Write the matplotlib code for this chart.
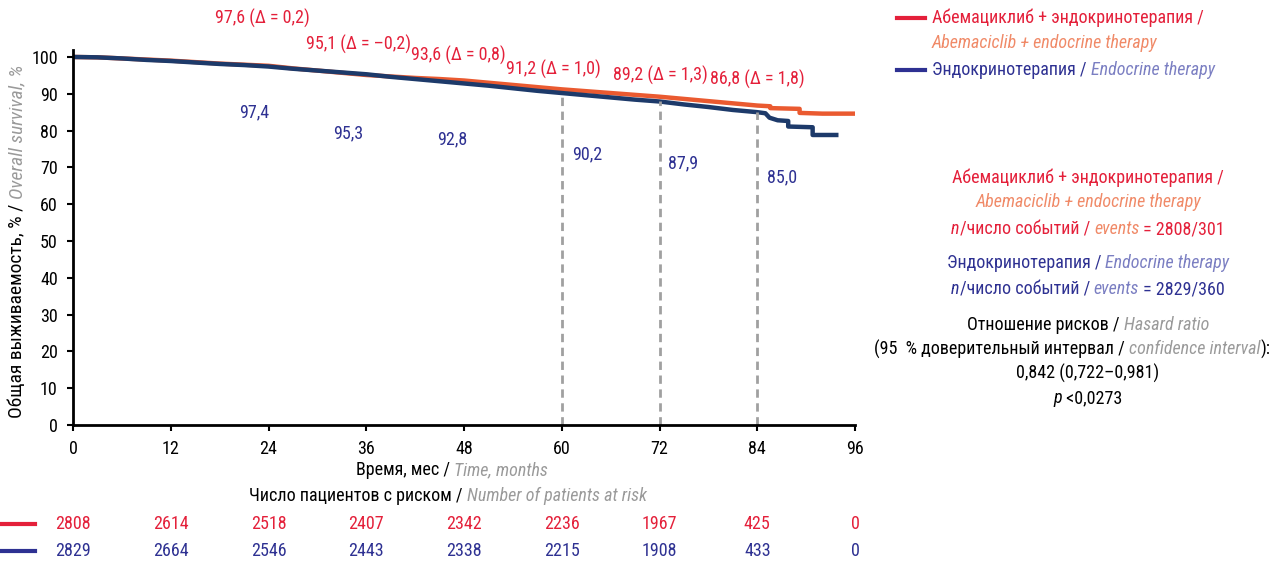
import matplotlib
matplotlib.use("Agg")
import matplotlib.pyplot as plt
from matplotlib.offsetbox import TextArea, HPacker, AnnotationBbox

FAM = ["Roboto Condensed", "Liberation Sans Narrow", "Liberation Sans", "DejaVu Sans"]
plt.rcParams["font.family"] = FAM

# Kaplan-Meier curves (months, OS %)
abe_t = [0, 3, 6, 9, 12, 15, 18, 21, 24, 27, 30, 33, 36, 39, 42, 45, 48, 51, 54, 57, 60,
         63, 66, 69, 72, 75, 78, 81, 84, 85.6, 85.6, 89.2, 89.2, 92, 95.8]
abe_s = [100, 99.9, 99.6, 99.3, 99.0, 98.6, 98.2, 97.9, 97.6, 96.9, 96.3, 95.7, 95.1, 94.7, 94.3,
         94.0, 93.6, 93.0, 92.4, 91.8, 91.2, 90.7, 90.2, 89.7, 89.2, 88.6, 88.0, 87.4, 86.8,
         86.6, 86.1, 85.9, 84.8, 84.6, 84.6]
end_t = [0, 3, 6, 9, 12, 15, 18, 21, 24, 27, 30, 33, 36, 39, 42, 45, 48, 51, 54, 57, 60,
         63, 66, 69, 72, 75, 78, 81, 84, 85, 85.5, 86.5, 87.8, 87.8, 90.8, 90.8, 93.7]
end_s = [100, 99.9, 99.6, 99.2, 98.9, 98.5, 98.1, 97.8, 97.4, 96.8, 96.3, 95.8, 95.3, 94.6, 94.0,
         93.4, 92.8, 92.2, 91.5, 90.8, 90.2, 89.6, 89.0, 88.4, 87.9, 87.1, 86.4, 85.6, 85.0,
         84.7, 83.5, 82.8, 82.6, 81.1, 80.9, 78.8, 78.8]

# landmark labels
mark_t = [24, 36, 48, 60, 72, 84]
abe_lab = ["97,6 (Δ = 0,2)", "95,1 (Δ = –0,2)", "93,6 (Δ = 0,8)", "91,2 (Δ = 1,0)",
           "89,2 (Δ = 1,3)", "86,8 (Δ = 1,8)"]
end_lab = ["97,4", "95,3", "92,8", "90,2", "87,9", "85,0"]
end_at_mark = [97.4, 95.3, 92.8, 90.2, 87.9, 85.0]
abe_lab_xy = [(23.2, 110.6), (35.0, 103.3), (47.3, 100.3), (59.0, 96.7), (72.1, 95.1), (84.0, 94.0)]
end_lab_xy = [(22.3, 85.0), (33.8, 79.3), (46.6, 77.7), (63.1, 73.4), (74.9, 71.2), (87.0, 67.4)]

# number at risk
risk_t = [0, 12, 24, 36, 48, 60, 72, 84, 96]
risk_abe = [2808, 2614, 2518, 2407, 2342, 2236, 1967, 425, 0]
risk_end = [2829, 2664, 2546, 2443, 2338, 2215, 1908, 433, 0]

RED = "#e4203a"
RED_CURVE = "#ea5a30"
LRED = "#f08a68"
BLUE = "#2e3192"
BLUE_CURVE = "#1d3a6a"
LBLUE = "#7b7fc2"
GRAY = "#9a9a9a"
FS = 13

W, H = 1277, 564
fig = plt.figure(figsize=(W / 100, H / 100), dpi=100)
ax = fig.add_axes([73 / W, 1 - 425 / H, (855 - 73) / W, (425 - 49.6) / H])

ax.plot(abe_t, abe_s, color=RED_CURVE, lw=3.2)
ax.plot(end_t, end_s, color=BLUE_CURVE, lw=3.2)

for t, v in zip(mark_t[3:], end_at_mark[3:]):
    ax.plot([t, t], [0, v], color="#a0a0a0", lw=2, ls=(0, (3, 2)))

for (x, y), s in zip(abe_lab_xy, abe_lab):
    ax.text(x, y, s, color=RED, fontsize=FS, ha="center", va="center", clip_on=False)
for (x, y), s in zip(end_lab_xy, end_lab):
    ax.text(x, y, s, color=BLUE, fontsize=FS, ha="center", va="center")

ax.set_xlim(0, 96)
ax.set_ylim(0, 102)
ax.set_xticks(range(0, 97, 12))
ax.set_yticks(range(0, 101, 10))
ax.tick_params(labelsize=FS, length=4, width=1.5, pad=7)
for sp in ["top", "right"]:
    ax.spines[sp].set_visible(False)
for sp in ["left", "bottom"]:
    ax.spines[sp].set_linewidth(2)


def rich(x, y, parts, ha=0.5):
    boxes = []
    for p in parts:
        txt, col = p[0], p[1]
        st = p[2] if len(p) > 2 else "normal"
        boxes.append(TextArea(txt, textprops=dict(color=col, style=st, fontsize=FS, family=FAM)))
    pack = HPacker(children=boxes, align="baseline", pad=0, sep=0)
    ab = AnnotationBbox(pack, (x / W, 1 - y / H), xycoords="figure fraction",
                        frameon=False, box_alignment=(ha, 0.5), pad=0)
    fig.add_artist(ab)


# legend
for yy, col in [(18, RED), (70, BLUE)]:
    fig.add_artist(plt.Line2D([897 / W, 925 / W], [1 - yy / H] * 2, color=col, lw=3))
rich(932, 18, [("Абемациклиб + эндокринотерапия /", RED)], ha=0)
rich(932, 43, [("Abemaciclib + endocrine therapy", LRED, "italic")], ha=0)
rich(932, 70, [("Эндокринотерапия / ", BLUE), ("Endocrine therapy", LBLUE, "italic")], ha=0)

# stats block
cx = 1088
rich(cx, 178, [("Абемациклиб + эндокринотерапия /", RED)])
rich(cx, 202, [("Abemaciclib + endocrine therapy", LRED, "italic")])
rich(cx, 229, [("n", RED, "italic"), ("/число событий / ", RED), ("events", LRED, "italic"),
               (" = 2808/301", RED)])
rich(cx, 263, [("Эндокринотерапия / ", BLUE), ("Endocrine therapy", LBLUE, "italic")])
rich(cx, 289, [("n", BLUE, "italic"), ("/число событий / ", BLUE), ("events", LBLUE, "italic"),
               (" = 2829/360", BLUE)])
rich(cx, 325, [("Отношение рисков / ", "black"), ("Hasard ratio", GRAY, "italic")])
rich(1072, 349, [("(95  % доверительный интервал / ", "black"), ("confidence interval", GRAY, "italic"),
                 ("):", "black")])
rich(cx, 373, [("0,842 (0,722–0,981)", "black")])
rich(cx, 398, [("p", "black", "italic"), (" <0,0273", "black")])

# axis titles
rich(452, 470, [("Время, мес / ", "black"), ("Time, months", GRAY, "italic")])
rich(448, 496, [("Число пациентов с риском / ", "black"), ("Number of patients at risk", GRAY, "italic")])

# y label (rotated, two styles), centred at y = 241 px
t1 = fig.text(17 / W, 0.5, "Общая выживаемость, % / ", rotation=90, rotation_mode="anchor",
              ha="left", va="center", fontsize=14, color="black")
t2 = fig.text(17 / W, 0.5, "Overall survival, %", rotation=90, rotation_mode="anchor",
              ha="left", va="center", fontsize=14, color=GRAY, style="italic")
fig.canvas.draw()
r = fig.canvas.get_renderer()
h1 = t1.get_window_extent(r).height
h2 = t2.get_window_extent(r).height
y0 = (H - 241) - (h1 + h2) / 2
t1.set_y(y0 / H)
t2.set_y((y0 + h1) / H)

# number at risk table
for yy, col, vals in [(524, RED, risk_abe), (551, BLUE, risk_end)]:
    fig.add_artist(plt.Line2D([0, 35 / W], [1 - yy / H] * 2, color=col, lw=3))
    for t, v in zip(risk_t, vals):
        x = ax.transData.transform((t, 0))[0]
        fig.text(x / W, 1 - yy / H, str(v), color=col, fontsize=FS, ha="center", va="center")

fig.savefig("out.png", dpi=100)
